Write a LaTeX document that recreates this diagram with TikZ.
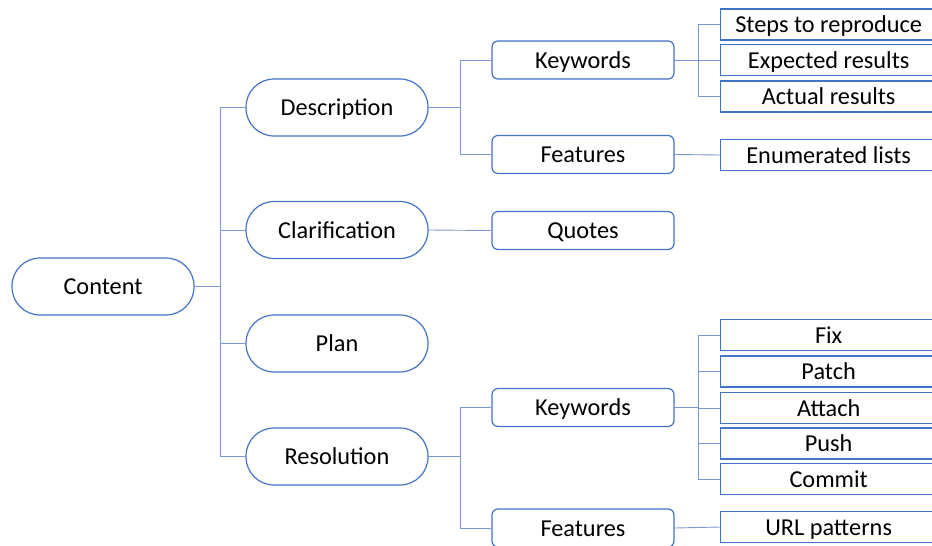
\documentclass[tikz,border=0pt]{standalone}
\usepackage{fontspec}
\setmainfont{Carlito}
\definecolor{boxblue}{HTML}{4472C4}
\definecolor{lineblue}{HTML}{7C97CF}
\begin{document}
\begin{tikzpicture}[x=1pt,y=-1pt,
  every node/.style={font=\fontsize{24.3}{28}\selectfont, text=black, inner sep=0pt, text height=16pt, text depth=0pt},
  pill/.style={draw=boxblue, line width=1.2pt, rounded corners=28pt, minimum width=182pt, minimum height=57pt},
  rbox/.style={draw=boxblue, line width=1.2pt, rounded corners=6pt, minimum width=182pt, minimum height=38pt},
  leaf/.style={draw=boxblue, line width=1.3pt, minimum width=216pt, minimum height=31pt, anchor=west},
  conn/.style={draw=lineblue, line width=0.9pt}]
\useasboundingbox (0,0) rectangle (932,546);
\clip (0,0) rectangle (932,546);
% level 1 and 2
\node[pill] (content) at (103,286.5) {Content};
\node[pill] (desc) at (337,107.5) {Description};
\node[pill] (clar) at (337,230) {Clarification};
\node[pill] (plan) at (337,343.5) {Plan};
\node[pill] (reso) at (337,456.5) {Resolution};
% level 3
\node[rbox] (kw1) at (583,60) {Keywords};
\node[rbox] (ft1) at (583,154.5) {Features};
\node[rbox] (quo) at (583,230.5) {Quotes};
\node[rbox] (kw2) at (583,407.5) {Keywords};
\node[rbox] (ft2) at (583,528) {Features};
% level 4
\node[leaf] (steps) at (720,24.5) {Steps to reproduce};
\node[leaf] (exp) at (720,60) {Expected results};
\node[leaf] (act) at (720,96.5) {Actual results};
\node[leaf] (enum) at (720,155) {Enumerated lists};
\node[leaf] (fix) at (720,335) {Fix};
\node[leaf] (patch) at (720,371.5) {Patch};
\node[leaf] (attach) at (720,408) {Attach};
\node[leaf] (push) at (720,443.5) {Push};
\node[leaf] (commit) at (720,479) {Commit};
\node[leaf] (url) at (720,527) {URL patterns};
% junctions
\coordinate (j0) at (220,286.5);
\coordinate (j1) at (460,107.5);
\coordinate (j2) at (460,456.5);
\coordinate (j3) at (698,60);
\coordinate (j4) at (698,407.5);
% connectors
\draw[conn] (content.east) -- (j0);
\draw[conn] (j0) |- (desc.west);
\draw[conn] (j0) |- (clar.west);
\draw[conn] (j0) |- (plan.west);
\draw[conn] (j0) |- (reso.west);
\draw[conn] (desc.east) -- (j1);
\draw[conn] (j1) |- (kw1.west);
\draw[conn] (j1) |- (ft1.west);
\draw[conn] (clar.east) -- (quo.west);
\draw[conn] (reso.east) -- (j2);
\draw[conn] (j2) |- (kw2.west);
\draw[conn] (j2) |- (ft2.west);
\draw[conn] (kw1.east) -- (j3);
\draw[conn] (j3) |- (steps.west);
\draw[conn] (j3) -- (exp.west);
\draw[conn] (j3) |- (act.west);
\draw[conn] (ft1.east) -- (enum.west);
\draw[conn] (kw2.east) -- (j4);
\draw[conn] (j4) |- (fix.west);
\draw[conn] (j4) |- (patch.west);
\draw[conn] (j4) |- (attach.west);
\draw[conn] (j4) |- (push.west);
\draw[conn] (j4) |- (commit.west);
\draw[conn] (ft2.east) -- (url.west);
\end{tikzpicture}
\end{document}
